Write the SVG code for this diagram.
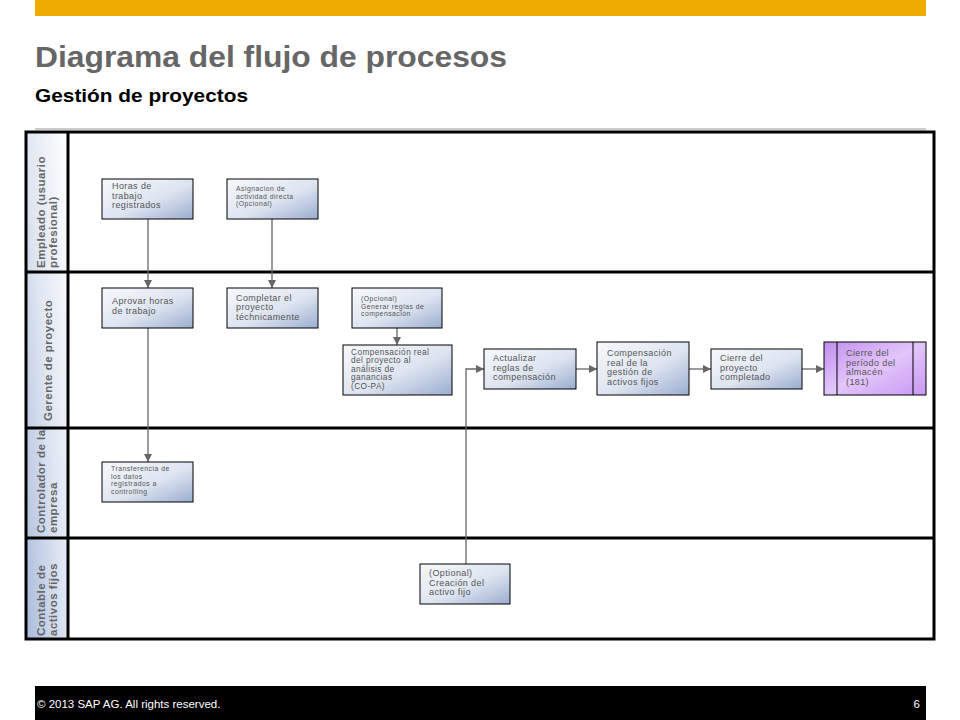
<svg xmlns="http://www.w3.org/2000/svg" width="960" height="720" viewBox="0 0 960 720">
<defs>
<linearGradient id="gBox" x1="0" y1="0" x2="1" y2="1">
<stop offset="0" stop-color="#f6f8fc"/>
<stop offset="0.55" stop-color="#dde4f0"/>
<stop offset="1" stop-color="#9aadcf"/>
</linearGradient>
<linearGradient id="gLane" x1="1" y1="0" x2="0" y2="1">
<stop offset="0" stop-color="#ffffff"/>
<stop offset="0.5" stop-color="#dfe6f2"/>
<stop offset="1" stop-color="#a9bbdb"/>
</linearGradient>
<linearGradient id="gPurple" x1="0" y1="0" x2="1" y2="1">
<stop offset="0" stop-color="#c28ef0"/>
<stop offset="0.5" stop-color="#e2c6fa"/>
<stop offset="1" stop-color="#c797f2"/>
</linearGradient>
<marker id="arr" viewBox="0 0 10 10" refX="10" refY="5" markerWidth="8" markerHeight="8" markerUnits="userSpaceOnUse" orient="auto">
<path d="M0,0 L10,5 L0,10 z" fill="#666"/>
</marker>
</defs>
<style>
.box{fill:url(#gBox);stroke:#000;stroke-width:1}
.nt{font-family:"Liberation Sans",Arial,sans-serif;font-size:9px;fill:#555;letter-spacing:0.4px}
.nc{font-family:"Liberation Sans",Arial,sans-serif;font-size:8.3px;fill:#555;letter-spacing:0.4px}
.ns{font-family:"Liberation Sans",Arial,sans-serif;font-size:6.8px;fill:#555;letter-spacing:0.5px}
.lane{fill:url(#gLane)}
.lt{font-family:"Liberation Sans",Arial,sans-serif;font-size:11.5px;font-weight:bold;fill:#666;letter-spacing:0.5px}
.conn{fill:none;stroke:#666;stroke-width:1.3}
.sep{stroke:#000;stroke-width:3}
</style>

<rect x="35" y="0" width="891" height="16" fill="#f0ab00"/>
<text x="35" y="67" font-family="Liberation Sans,Arial,sans-serif" font-size="30" font-weight="bold" fill="#666" textLength="472" lengthAdjust="spacingAndGlyphs">Diagrama del flujo de procesos</text>
<text x="35" y="102" font-family="Liberation Sans,Arial,sans-serif" font-size="18.5" font-weight="bold" fill="#000" textLength="213" lengthAdjust="spacingAndGlyphs">Gestión de proyectos</text>
<line x1="35" y1="129" x2="926" y2="129" stroke="#999" stroke-width="1"/>

<g id="lanes">
<rect x="26" y="132" width="42" height="507" class="lane"/>
<rect x="26" y="132" width="908" height="507" fill="none" stroke="#000" stroke-width="3"/>
<line x1="68" y1="132" x2="68" y2="639" class="sep"/>
<line x1="26" y1="272" x2="934" y2="272" class="sep"/>
<line x1="26" y1="428" x2="934" y2="428" class="sep"/>
<line x1="26" y1="538" x2="934" y2="538" class="sep"/>
<text class="lt" transform="translate(45,268) rotate(-90)">Empleado (usuario</text>
<text class="lt" transform="translate(57,268) rotate(-90)">profesional)</text>
<text class="lt" transform="translate(52,421) rotate(-90)">Gerente de proyecto</text>
<text class="lt" transform="translate(45,533) rotate(-90)">Controlador de la</text>
<text class="lt" transform="translate(57,533) rotate(-90)">empresa</text>
<text class="lt" transform="translate(45,636) rotate(-90)">Contable de</text>
<text class="lt" transform="translate(57,636) rotate(-90)">activos fijos</text>
</g>

<g id="connectors">
<line x1="148" y1="219" x2="148" y2="288" class="conn" marker-end="url(#arr)"/>
<line x1="272" y1="219" x2="272" y2="288" class="conn" marker-end="url(#arr)"/>
<line x1="148" y1="328" x2="148" y2="462" class="conn" marker-end="url(#arr)"/>
<line x1="397" y1="328" x2="397" y2="345" class="conn" marker-end="url(#arr)"/>
<polyline points="466,564 466,369 484,369" class="conn" marker-end="url(#arr)"/>
<line x1="576" y1="369" x2="597" y2="369" class="conn" marker-end="url(#arr)"/>
<line x1="689" y1="369" x2="711" y2="369" class="conn" marker-end="url(#arr)"/>
<line x1="802" y1="369" x2="824" y2="369" class="conn" marker-end="url(#arr)"/>
</g>

<g id="n-horas">
<rect x="102" y="179" width="91" height="40" class="box"/>
<text class="nt" x="112" y="189">Horas de</text>
<text class="nt" x="112" y="198.5">trabajo</text>
<text class="nt" x="112" y="208">registrados</text>
</g>
<g id="n-asignacion">
<rect x="227" y="179" width="91" height="40" class="box"/>
<text class="ns" x="236" y="191">Asignacion de</text>
<text class="ns" x="236" y="198.5">actividad directa</text>
<text class="ns" x="236" y="206">(Opcional)</text>
</g>
<g id="n-aprovar">
<rect x="102" y="288" width="91" height="40" class="box"/>
<text class="nt" x="112" y="304">Aprovar horas</text>
<text class="nt" x="112" y="314">de trabajo</text>
</g>
<g id="n-completar">
<rect x="227" y="288" width="91" height="40" class="box"/>
<text class="nt" x="236" y="300.5">Completar el</text>
<text class="nt" x="236" y="310">proyecto</text>
<text class="nt" x="236" y="319.5">téchnicamente</text>
</g>
<g id="n-generar">
<rect x="352" y="288" width="90" height="40" class="box"/>
<text class="ns" x="361" y="301">(Opcional)</text>
<text class="ns" x="361" y="308.5">Generar reglas de</text>
<text class="ns" x="361" y="316">compensación</text>
</g>
<g id="n-copa">
<rect x="343" y="345" width="109" height="50" class="box"/>
<text class="nc" x="351" y="354.5">Compensación real</text>
<text class="nc" x="351" y="363">del proyecto al</text>
<text class="nc" x="351" y="371.5">análisis de</text>
<text class="nc" x="351" y="380">ganancias</text>
<text class="nc" x="351" y="388.5">(CO-PA)</text>
</g>
<g id="n-actualizar">
<rect x="484" y="349" width="92" height="40" class="box"/>
<text class="nt" x="493" y="361">Actualizar</text>
<text class="nt" x="493" y="370.5">reglas de</text>
<text class="nt" x="493" y="380">compensación</text>
</g>
<g id="n-activos">
<rect x="597" y="342" width="92" height="53" class="box"/>
<text class="nt" x="607" y="356">Compensación</text>
<text class="nt" x="607" y="365.5">real de la</text>
<text class="nt" x="607" y="375">gestión de</text>
<text class="nt" x="607" y="384.5">activos fijos</text>
</g>
<g id="n-cierre-proyecto">
<rect x="711" y="349" width="91" height="40" class="box"/>
<text class="nt" x="720" y="361">Cierre del</text>
<text class="nt" x="720" y="370.5">proyecto</text>
<text class="nt" x="720" y="380">completado</text>
</g>
<g id="n-cierre-periodo">
<rect x="824" y="342" width="102" height="53" fill="url(#gPurple)" stroke="#000" stroke-width="1"/>
<line x1="837" y1="342" x2="837" y2="395" stroke="#000" stroke-width="1"/>
<line x1="913" y1="342" x2="913" y2="395" stroke="#000" stroke-width="1"/>
<text class="nt" x="846" y="356">Cierre del</text>
<text class="nt" x="846" y="365.5">período del</text>
<text class="nt" x="846" y="375">almacén</text>
<text class="nt" x="846" y="384.5">(181)</text>
</g>
<g id="n-transferencia">
<rect x="102" y="462" width="91" height="40" class="box"/>
<text class="ns" x="111" y="471">Transferencia de</text>
<text class="ns" x="111" y="478.5">los datos</text>
<text class="ns" x="111" y="486">registrados a</text>
<text class="ns" x="111" y="493.5">controlling</text>
</g>
<g id="n-creacion">
<rect x="420" y="564" width="90" height="40" class="box"/>
<text class="nt" x="429" y="576">(Optional)</text>
<text class="nt" x="429" y="585.5">Creación del</text>
<text class="nt" x="429" y="595">activo fijo</text>
</g>

<rect x="35" y="686" width="891" height="34" fill="#000"/>
<text x="37" y="708" font-family="Liberation Sans,Arial,sans-serif" font-size="11.5" fill="#fff">© 2013 SAP AG. All rights reserved.</text>
<text x="920" y="708" text-anchor="end" font-family="Liberation Sans,Arial,sans-serif" font-size="11.5" fill="#fff">6</text>
</svg>
